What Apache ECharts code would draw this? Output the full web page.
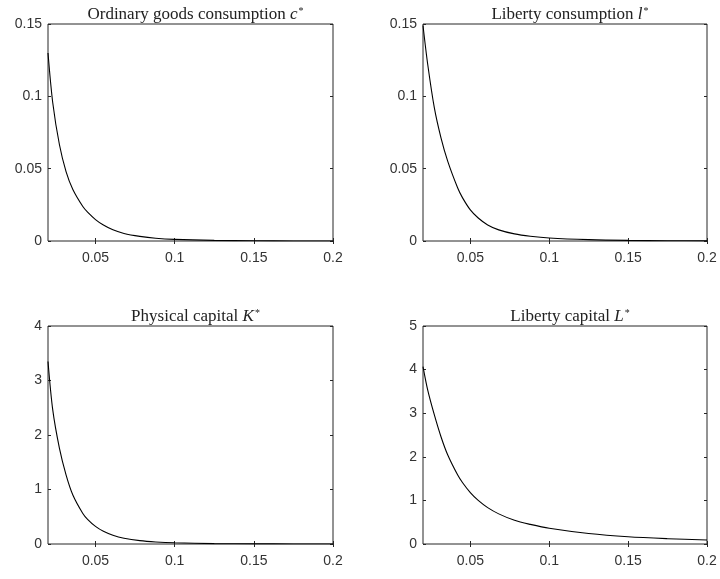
<!DOCTYPE html>
<html>
<head>
<meta charset="utf-8">
<script src="https://cdn.jsdelivr.net/npm/echarts@6/dist/echarts.min.js"></script>
<style>html,body{margin:0;padding:0;background:#fff}#c{width:720px;height:579px}</style>
</head>
<body>
<div id="c"></div>
<script>
// x grid (rate)
const xs = [0.02, 0.023, 0.0272, 0.0314, 0.0357, 0.042, 0.045, 0.05, 0.055, 0.061, 0.068, 0.078, 0.088, 0.1, 0.125, 0.15, 0.175, 0.2];
// series values
const cStar = [0.130, 0.0956, 0.0667, 0.048, 0.0356, 0.0238, 0.0199, 0.0148, 0.0110, 0.0077, 0.0052, 0.0032, 0.0019, 0.0011, 0.0004, 0.00015, 0.00005, 0.00002];
const lStar = [0.149, 0.122, 0.092, 0.0713, 0.055, 0.0366, 0.030, 0.0215, 0.0159, 0.0111, 0.0077, 0.0049, 0.0033, 0.0021, 0.00095, 0.0004, 0.0002, 0.0001];
const KStar = [3.35, 2.46, 1.76, 1.27, 0.90, 0.56, 0.453, 0.323, 0.233, 0.161, 0.107, 0.0624, 0.0379, 0.0218, 0.0076, 0.003, 0.0011, 0.0004];
const LStar = [4.07, 3.53, 2.96, 2.46, 2.04, 1.58, 1.41, 1.178, 0.999, 0.834, 0.691, 0.543, 0.45, 0.36, 0.24, 0.165, 0.122, 0.092];
// tick labels
const xTicks = [0.05, 0.1, 0.15, 0.2];
const yTicksSmall = [0, 0.05, 0.1, 0.15];
const yTicksK = [0, 1, 2, 3, 4];
const yTicksL = [0, 1, 2, 3, 4, 5];
// titles
const titles = [
  ['Ordinary goods consumption ', 'c'],
  ['Liberty consumption ', 'l'],
  ['Physical capital ', 'K'],
  ['Liberty capital ', 'L']
];

const panels = [
  {grid: {left: 48, top: 24, width: 285, height: 217}, data: cStar, yt: yTicksSmall},
  {grid: {left: 423, top: 24, width: 284, height: 217}, data: lStar, yt: yTicksSmall},
  {grid: {left: 48, top: 326, width: 285, height: 218}, data: KStar, yt: yTicksK},
  {grid: {left: 423, top: 326, width: 284, height: 218}, data: LStar, yt: yTicksL}
];

const axisColor = '#262626';
const labelFont = {fontFamily: '"Liberation Sans", Arial, sans-serif', fontSize: 14, color: '#333'};
const serif = '"Liberation Serif", "Times New Roman", serif';

const option = {
  animation: false,
  backgroundColor: '#fff',
  title: [], grid: [], xAxis: [], yAxis: [], series: []
};

panels.forEach((p, i) => {
  const g = p.grid;
  option.grid.push(Object.assign({containLabel: false, show: true, borderColor: axisColor, borderWidth: 1, backgroundColor: '#fff'}, g));
  const cx = g.left + g.width / 2;
  option.title.push({
    text: '{n|' + titles[i][0] + '}{i|' + titles[i][1] + '}{s|*}',
    left: cx, textAlign: 'center',
    top: g.top - 23,
    textStyle: {
      fontWeight: 'normal',
      rich: {
        n: {fontFamily: serif, fontSize: 17, fontWeight: 'normal', color: '#222'},
        i: {fontFamily: serif, fontSize: 17, fontWeight: 'normal', fontStyle: 'italic', color: '#222'},
        s: {fontFamily: serif, fontSize: 10, fontWeight: 'normal', color: '#222', verticalAlign: 'top', padding: [0, 0, 0, 1]}
      }
    }
  });
  const ymin = p.yt[0], ymax = p.yt[p.yt.length - 1], yint = p.yt[1] - p.yt[0];
  const xBase = {type: 'value', gridIndex: i, min: 0.02, max: 0.2, splitLine: {show: false}, axisLine: {show: false}};
  option.xAxis.push(Object.assign({}, xBase, {
    position: 'bottom',
    axisTick: {show: true, inside: true, length: 3, lineStyle: {color: axisColor}, customValues: xTicks},
    axisLabel: Object.assign({show: true, margin: 10, customValues: xTicks, formatter: v => String(+v.toFixed(3))}, labelFont)
  }));
  option.xAxis.push(Object.assign({}, xBase, {
    position: 'top',
    axisTick: {show: true, inside: true, length: 3, lineStyle: {color: axisColor}, customValues: xTicks},
    axisLabel: {show: false}
  }));
  const yBase = {type: 'value', gridIndex: i, min: ymin, max: ymax, interval: yint, splitLine: {show: false}, axisLine: {show: false}};
  option.yAxis.push(Object.assign({}, yBase, {
    position: 'left',
    axisTick: {show: true, inside: true, length: 3, lineStyle: {color: axisColor}},
    axisLabel: Object.assign({show: true, margin: 6, formatter: v => String(+v.toFixed(3))}, labelFont)
  }));
  option.yAxis.push(Object.assign({}, yBase, {
    position: 'right',
    axisTick: {show: true, inside: true, length: 3, lineStyle: {color: axisColor}},
    axisLabel: {show: false}
  }));
  option.series.push({
    type: 'line',
    xAxisIndex: 2 * i, yAxisIndex: 2 * i,
    data: xs.map((x, k) => [x, p.data[k]]),
    showSymbol: false,
    smooth: 0.3,
    clip: true,
    lineStyle: {color: '#000', width: 1.1}
  });
});

const chart = echarts.init(document.getElementById('c'), null, {renderer: 'canvas'});
chart.setOption(option);
</script>
</body>
</html>
